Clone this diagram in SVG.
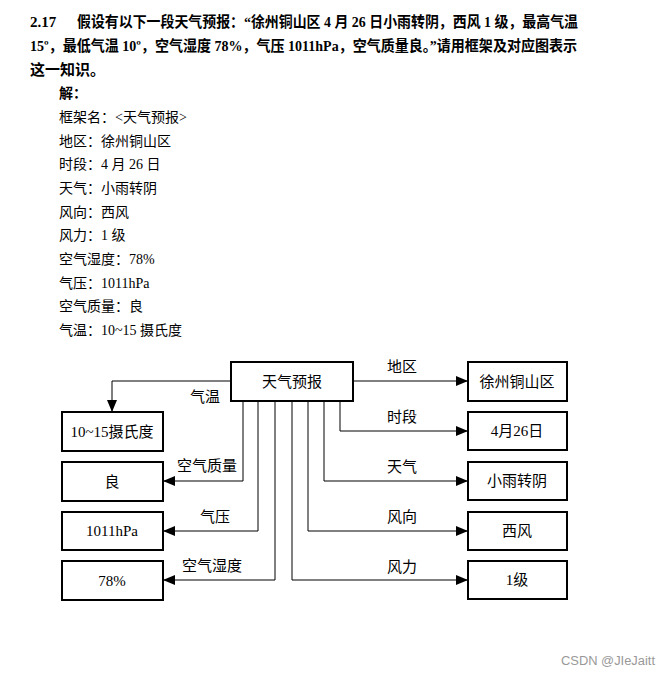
<svg xmlns="http://www.w3.org/2000/svg" width="671" height="676" viewBox="0 0 671 676">
<defs>
<style>
text{font-family:"Liberation Serif","Noto Sans CJK SC",serif;fill:#000}
.t{font-size:15px;font-weight:bold}
.a{font-size:14px}
.b{font-size:15px;text-anchor:middle}
.l{font-size:15px;text-anchor:middle}
rect{fill:#fff;stroke:#000;stroke-width:2}
.c path{fill:none;stroke:#000;stroke-width:1;marker-end:url(#ar)}
.wm{font-family:"Liberation Sans",Arial,sans-serif;font-size:12px;fill:#999}
</style>
<marker id="ar" markerUnits="userSpaceOnUse" markerWidth="12" markerHeight="10" refX="12" refY="5" orient="auto">
<path d="M0,0 L12,5 L0,10 z" fill="#000"/>
</marker>
</defs>
<rect x="0" y="0" width="671" height="676" style="fill:#fff;stroke:none"/>
<g id="question">
<text class="t" x="30" y="27">2.17</text>
<text class="t" x="77" y="27" textLength="501" lengthAdjust="spacingAndGlyphs">假设有以下一段天气预报：“徐州铜山区 4 月 26 日小雨转阴，西风 1 级，最高气温</text>
<text class="t" x="30" y="51" textLength="547" lengthAdjust="spacingAndGlyphs">15º，最低气温 10º，空气湿度 78%，气压 1011hPa，空气质量良。”请用框架及对应图表示</text>
<text class="t" x="30" y="75">这一知识。</text>
</g>
<g id="answer">
<text class="a" x="59" y="98" font-weight="bold">解：</text>
<text class="a" x="59" y="122">框架名：&lt;天气预报&gt;</text>
<text class="a" x="59" y="146">地区：徐州铜山区</text>
<text class="a" x="59" y="169">时段：4 月 26 日</text>
<text class="a" x="59" y="193">天气：小雨转阴</text>
<text class="a" x="59" y="217">风向：西风</text>
<text class="a" x="59" y="240">风力：1 级</text>
<text class="a" x="59" y="264">空气湿度：78%</text>
<text class="a" x="59" y="288">气压：1011hPa</text>
<text class="a" x="59" y="311">空气质量：良</text>
<text class="a" x="59" y="335">气温：10~15 摄氏度</text>
</g>
<g class="c" id="connectors">
<path d="M353,381 H468"/>
<path d="M340,401 V431 H468"/>
<path d="M324,401 V481 H468"/>
<path d="M308,401 V531 H468"/>
<path d="M292,401 V580 H468"/>
<path d="M275,401 V580 H163"/>
<path d="M258,401 V531 H163"/>
<path d="M243,401 V481 H163"/>
<path d="M231,381 H112 V412"/>
</g>
<g id="edge-labels">
<text class="l" x="402" y="372">地区</text>
<text class="l" x="402" y="422">时段</text>
<text class="l" x="402" y="472">天气</text>
<text class="l" x="402" y="522">风向</text>
<text class="l" x="402" y="572">风力</text>
<text class="l" x="205" y="402">气温</text>
<text class="l" x="207" y="471">空气质量</text>
<text class="l" x="215" y="522">气压</text>
<text class="l" x="212" y="571">空气湿度</text>
</g>
<g id="n-forecast"><rect x="231" y="362" width="122" height="39"/><text class="b" x="292" y="387">天气预报</text></g>
<g id="n-region"><rect x="468" y="362" width="99" height="39"/><text class="b" x="517" y="387">徐州铜山区</text></g>
<g id="n-date"><rect x="468" y="412" width="99" height="38"/><text class="b" x="517" y="436">4月26日</text></g>
<g id="n-weather"><rect x="468" y="462" width="99" height="38"/><text class="b" x="517" y="486">小雨转阴</text></g>
<g id="n-winddir"><rect x="468" y="512" width="99" height="38"/><text class="b" x="517" y="536">西风</text></g>
<g id="n-windforce"><rect x="468" y="561" width="99" height="38"/><text class="b" x="517" y="585">1级</text></g>
<g id="n-temp"><rect x="62" y="412" width="101" height="39"/><text class="b" x="112" y="437">10~15摄氏度</text></g>
<g id="n-quality"><rect x="62" y="462" width="101" height="39"/><text class="b" x="112" y="487">良</text></g>
<g id="n-pressure"><rect x="62" y="512" width="101" height="38"/><text class="b" x="112" y="536">1011hPa</text></g>
<g id="n-humidity"><rect x="62" y="561" width="101" height="39"/><text class="b" x="112" y="586">78%</text></g>
<text class="wm" x="561" y="665" textLength="94" lengthAdjust="spacingAndGlyphs">CSDN @JIeJaitt</text>
</svg>
